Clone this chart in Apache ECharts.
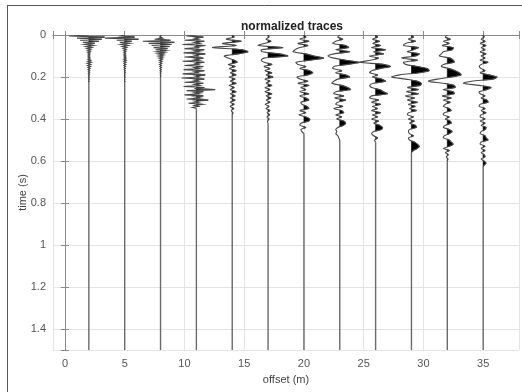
<!DOCTYPE html>
<html>
<head>
<meta charset="utf-8">
<script src="https://cdn.jsdelivr.net/npm/echarts@6/dist/echarts.min.js"></script>
<style>
html,body{margin:0;padding:0;background:#fff;}
#chart{width:522px;height:392px;}
</style>
</head>
<body>
<div id="chart"></div>
<script>
// ---- data ----
const offsets = [2, 5, 8, 11, 14, 17, 20, 23, 26, 29, 32, 35];
const sampleSteps = [0.005, 0.005, 0.005, 0.005, 0.01, 0.01, 0.01, 0.01, 0.01, 0.01, 0.01, 0.01];
const xTicks = [0, 5, 10, 15, 20, 25, 30, 35];
const yTicks = [0, 0.2, 0.4, 0.6, 0.8, 1, 1.2, 1.4];
const timeMax = 1.5;

const tr02 = [0, -1.0, 0.8, -0.6, 0.65, -0.45, 0.5, -0.3, 0.3, -0.2, 0.25, -0.15, 0.15, -0.1, 0.1, -0.08, 0.08, -0.06, 0.06, -0.05, 0.05, -0.05, 0.06, -0.05, 0.1, -0.06, 0.12, -0.08, 0.1, -0.07, 0.09, -0.05, 0.06, -0.04, 0.05, -0.03, 0.04, -0.03, 0.03, -0.02, 0.02, -0.02, 0.02, -0.01, 0.01, 0];
const tr05 = [0, -0.2, 0.5, -1.0, 0.7, -0.4, 0.35, -0.25, 0.25, -0.2, 0.18, -0.12, 0.1, -0.08, 0.08, -0.06, 0.06, -0.05, 0.05, -0.05, 0.06, -0.04, 0.07, -0.05, 0.08, -0.05, 0.07, -0.04, 0.06, -0.04, 0.05, -0.03, 0.04, -0.03, 0.03, -0.02, 0.03, -0.02, 0.02, -0.02, 0.02, -0.01, 0.01, -0.01, 0.01, 0];
const tr08 = [0, 0.02, -0.05, 0.1, -0.3, 0.5, -0.9, 0.7, -0.6, 0.55, -0.45, 0.45, -0.35, 0.35, -0.25, 0.28, -0.2, 0.2, -0.15, 0.15, -0.12, 0.12, -0.08, 0.1, -0.06, 0.08, -0.05, 0.06, -0.05, 0.05, -0.04, 0.05, -0.03, 0.04, -0.03, 0.03, -0.02, 0.02, -0.02, 0.02, -0.01, 0];
const tr11 = [0,
  -0.5, 0.35, -0.1, 0.1,
  -0.6, 0.4, -0.1, 0.15,
  -0.7, 0.45, -0.05, 0.1,
  -0.6, 0.4, -0.1, 0.15,
  -0.65, 0.45, -0.1, 0.1,
  -0.6, 0.35, -0.1, 0.15,
  -0.7, 0.4, -0.05, 0.1,
  -0.6, 0.35, -0.1, 0.15,
  -0.65, 0.4, -0.1, 0.1,
  -0.7, 0.45, -0.05, 0.15,
  -0.75, 0.4, -0.1, 0.1,
  -0.6, 0.35, -0.1, 0.15,
  -0.65, 0.4, -0.1, 0.95,
  -0.5, 0.35, -0.1, 0.15,
  -0.6, 0.35, -0.1, 0.2,
  -0.5, 0.6, -0.1, 0.1,
  -0.4, 0.3, -0.1, 0.1,
  -0.2, 0];
const tr14 = [0, 0.1, -0.3, 0.45, -0.5, 0.2, -1.0, 0.5, 0.8, 0.3, -0.4, -0.2, 0.1, 0.25, -0.2, 0.15, -0.15, 0.2, -0.1, 0.2, -0.15, 0.15, -0.1, 0.2, -0.15, 0.1, -0.1, 0.2, -0.1, 0.15, -0.1, 0.15, -0.1, 0.1, -0.1, 0.08, -0.05, 0.03, 0];
const tr17 = [0, 0.05, -0.1, 0.15, -0.2, -0.5, 0.75, -0.35, -0.3, 0.6, 1.0, -0.2, -0.35, -0.2, 0.2, -0.2, 0.1, -0.15, 0.2, -0.1, 0.25, -0.15, 0.1, -0.1, 0.2, -0.15, 0.1, -0.15, 0.2, -0.1, 0.15, -0.1, 0.1, -0.15, 0.05, -0.1, 0.1, -0.05, 0.08, -0.05, 0.05, -0.03, 0];
const tr20 = [0, 0.1, -0.2, 0.25, -0.3, 0.2, -0.2, -0.45, -0.55, 0.1, 0.5, 1.0, 0.3, -0.4, -0.3, 0.1, -0.2, 0.3, 0.45, 0.2, -0.35, -0.2, 0.2, -0.3, 0.25, -0.15, 0.1, -0.2, 0.25, -0.2, 0.1, 0.25, -0.15, -0.1, 0.15, 0.25, -0.2, 0.1, -0.25, 0.1, 0.3, 0.25, -0.15, -0.2, 0.1, -0.15, -0.1, 0];
const tr23 = [0, -0.1, 0.15, -0.2, -0.35, 0.3, 0.45, -0.2, 0.5, -0.3, -0.6, -0.3, 0.3, 1.0, 0.4, -0.3, -0.35, 0.1, -0.2, 0.3, 0.5, -0.1, -0.3, -0.4, 0.1, 0.4, 0.55, -0.2, -0.3, 0.2, -0.25, 0.3, -0.1, -0.2, 0.15, -0.3, 0.1, 0.2, -0.2, 0.1, -0.15, 0.2, 0.3, 0.2, -0.1, -0.2, -0.15, -0.2, -0.1, -0.05, 0];
const tr26 = [0, 0.1, -0.15, 0.2, -0.15, 0.25, -0.2, 0.5, -0.1, 0.4, -0.3, 0.15, -0.25, -0.8, 0.4, 0.75, 0.2, -0.2, -0.3, 0.1, -0.15, 0.3, 0.5, -0.1, -0.3, -0.2, 0.2, 0.4, 0.6, -0.2, -0.3, 0.15, -0.2, 0.25, -0.15, 0.1, -0.2, 0.25, -0.15, 0.1, -0.2, 0.15, -0.1, 0.2, 0.35, 0.3, -0.1, -0.2, -0.1, 0.1, -0.05, 0];
const tr29 = [0, 0.1, -0.15, 0.2, -0.3, -0.4, 0.35, 0.1, -0.2, 0.4, 0.2, -0.5, 0.3, -0.4, -0.3, 0.3, 0.8, 0.9, 0.4, -0.6, -1.0, -0.3, 0.3, 0.5, 0.45, -0.2, 0.35, -0.25, 0.35, -0.3, 0.15, -0.2, 0.3, -0.15, 0.2, -0.1, 0.25, -0.15, -0.2, 0.1, -0.15, 0.15, -0.1, 0.2, 0.25, -0.1, -0.15, -0.1, 0.1, -0.15, -0.1, 0.15, 0.3, 0.4, 0.3, 0.1, 0];
const tr32 = [0, -0.1, 0.15, -0.2, 0.1, -0.25, 0.3, 0.25, -0.2, -0.3, -0.4, 0.15, 0.3, 0.35, -0.2, -0.3, 0.1, 0.4, 0.6, 0.7, 0.2, -0.5, -0.95, -0.2, 0.35, 0.4, -0.2, 0.3, 0.35, -0.25, 0.2, -0.2, 0.15, -0.1, -0.2, 0.1, 0.2, -0.15, -0.2, 0.1, -0.1, 0.15, 0.2, -0.1, -0.2, 0.1, 0.25, 0.1, -0.15, -0.2, 0.1, 0.2, 0.3, 0.1, -0.2, 0.1, -0.1, 0.05, -0.05, 0.03, 0];
const tr35 = [0, 0.05, -0.1, 0.1, -0.15, 0.15, -0.1, 0.1, -0.15, 0.15, -0.1, 0.1, -0.15, 0.25, -0.1, -0.2, -0.1, 0.1, -0.15, 0.3, 0.7, 0.5, -0.6, -1.0, -0.2, 0.4, 0.2, -0.2, -0.15, 0.1, -0.1, 0.2, 0.25, -0.15, -0.2, 0.1, -0.1, 0.15, -0.1, -0.15, 0.1, -0.15, 0.1, -0.1, 0.15, 0.1, -0.1, -0.15, 0.1, 0.15, 0.25, -0.1, -0.15, 0.1, -0.1, 0.1, -0.1, 0.05, 0.1, -0.1, 0.05, 0.15, 0.05, 0];

const traceAmps = [tr02, tr05, tr08, tr11, tr14, tr17, tr20, tr23, tr26, tr29, tr32, tr35];

// ---- drawing ----
const gain = 1.65; // normalized amplitude 1 -> offset units
const fontFam = '"Liberation Sans", Arial, sans-serif';

function renderTrace(params, api) {
  const k = api.value(2);
  const off = offsets[k];
  const dt = sampleSteps[k];
  const a = traceAmps[k];
  const pts = [];
  for (let i = 0; i < a.length; i++) pts.push(api.coord([off + gain * a[i], i * dt]));
  const tEnd = (a.length - 1) * dt;
  const polys = [];
  let cur = null;
  for (let i = 0; i < a.length; i++) {
    const v = a[i], t = i * dt;
    if (v > 0) {
      if (!cur) {
        let t0 = t;
        if (i > 0) { const p = a[i - 1]; t0 = (i - 1) * dt + dt * (0 - p) / (v - p); }
        cur = [api.coord([off, t0])];
      }
      cur.push(api.coord([off + gain * v, t]));
    } else if (cur) {
      const p = a[i - 1];
      const t1 = (i - 1) * dt + dt * p / (p - v);
      cur.push(api.coord([off, t1]));
      polys.push(cur);
      cur = null;
    }
  }
  if (cur) { cur.push(api.coord([off, tEnd])); polys.push(cur); }
  const children = polys.map(p => ({
    type: 'polygon', shape: { points: p }, style: { fill: '#000', stroke: '#000', lineWidth: 0.6 }
  }));
  children.push({
    type: 'polyline', shape: { points: pts, smooth: dt > 0.006 ? 0.3 : 0 },
    style: { stroke: '#4a4a4a', lineWidth: 1.1, fill: null }
  });
  children.push({
    type: 'line',
    shape: (function () { const p0 = api.coord([off, tEnd]); const p1 = api.coord([off, timeMax]); return { x1: p0[0], y1: p0[1], x2: p1[0], y2: p1[1] }; })(),
    style: { stroke: '#6a6a6a', lineWidth: 1.4 }
  });
  return { type: 'group', children };
}

const chart = echarts.init(document.getElementById('chart'), null, { renderer: 'canvas' });
const axisGray = '#8a8a8a';
chart.setOption({
  animation: false,
  backgroundColor: '#fff',
  title: {
    text: 'normalized traces', left: 287, top: 16, textAlign: 'center',
    textStyle: { fontFamily: fontFam, fontSize: 12, fontWeight: 'bold', color: '#222' }
  },
  grid: { left: 53, right: 1, top: 35, bottom: 42, containLabel: false },
  xAxis: [{
    type: 'value', min: -1, max: 38, splitNumber: 8,
    name: 'offset (m)', nameLocation: 'middle', nameGap: 24, nameMoveOverlap: false,
    nameTextStyle: { fontFamily: fontFam, fontSize: 11, color: '#444' },
    axisLine: { show: true, lineStyle: { color: axisGray } },
    axisTick: { show: true, inside: true, length: 4, lineStyle: { color: axisGray } },
    axisLabel: {
      margin: 8, fontFamily: fontFam, fontSize: 11, color: '#555',
      formatter: v => (xTicks.indexOf(v) >= 0 ? String(v) : '')
    },
    splitLine: { show: true, lineStyle: { color: '#e4e4e4', width: 1 } }
  }, {
    type: 'value', min: -1, max: 38, splitNumber: 8, position: 'top',
    axisLine: { show: true, lineStyle: { color: axisGray } },
    axisTick: { show: true, inside: true, length: 4, lineStyle: { color: axisGray } },
    axisLabel: { show: false }, splitLine: { show: false }
  }],
  yAxis: [{
    type: 'value', min: 0, max: timeMax, interval: 0.2, inverse: true,
    name: 'time (s)', nameLocation: 'middle', nameGap: 25, nameMoveOverlap: false,
    nameTextStyle: { fontFamily: fontFam, fontSize: 11, color: '#444' },
    axisLine: { show: true, lineStyle: { color: axisGray } },
    axisTick: { show: true, inside: true, length: 4, lineStyle: { color: axisGray } },
    axisLabel: {
      margin: 7, fontFamily: fontFam, fontSize: 11, color: '#555',
      formatter: v => { const i = yTicks.findIndex(y => Math.abs(y - v) < 1e-9); return i >= 0 ? String(yTicks[i]) : ''; }
    },
    splitLine: { show: true, lineStyle: { color: '#e4e4e4', width: 1 } }
  }, {
    type: 'value', min: 0, max: timeMax, interval: 0.2, inverse: true, position: 'right',
    axisLine: { show: true, lineStyle: { color: axisGray } },
    axisTick: { show: true, inside: true, length: 4, lineStyle: { color: axisGray } },
    axisLabel: { show: false }, splitLine: { show: false }
  }],
  series: [{
    type: 'custom',
    xAxisIndex: 0, yAxisIndex: 0,
    renderItem: renderTrace,
    clip: true,
    encode: { x: 0, y: 1 },
    data: offsets.map((o, k) => [o, 0, k])
  }],
  graphic: [
    { type: 'line', shape: { x1: 7.5, y1: 5, x2: 7.5, y2: 392 }, style: { stroke: '#555', lineWidth: 1 } },
    { type: 'line', shape: { x1: 7, y1: 5.5, x2: 522, y2: 5.5 }, style: { stroke: '#555', lineWidth: 1 } }
  ]
});
</script>
</body>
</html>
